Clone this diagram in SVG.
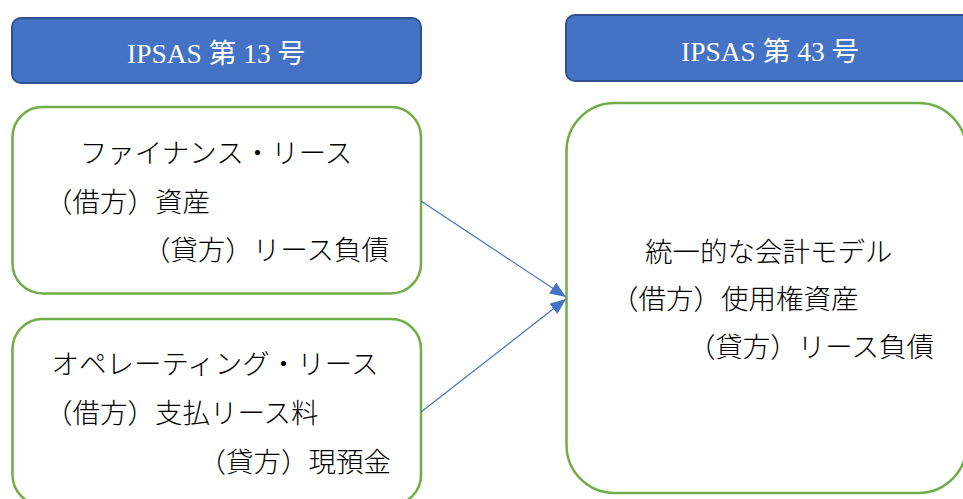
<svg xmlns="http://www.w3.org/2000/svg" width="963" height="499" viewBox="0 0 963 499">
<style>
.hdr{fill:#4472C4;stroke:#2F528F;stroke-width:2}
.hdrt{fill:#fff;font-family:"Liberation Serif","Noto Sans CJK JP",serif;font-size:27.5px;text-anchor:middle}
.box{fill:#fff;stroke:#70AD47;stroke-width:2.5}
.t{fill:#000;font-family:"Noto Sans CJK JP",sans-serif;font-size:27.5px;font-weight:300}
.mid{text-anchor:middle}
.end{text-anchor:end}
.conn{stroke:#4472C4;stroke-width:1.2;fill:none}
</style>
<defs>
<marker id="ah" markerUnits="userSpaceOnUse" markerWidth="17" markerHeight="13" refX="16" refY="6.5" orient="auto">
<path d="M0,0 L16,6.5 L0,13 z" fill="#4472C4"/>
</marker>
</defs>
<rect width="963" height="499" fill="#fff"/>
<g id="header13">
<rect class="hdr" x="12" y="18" width="409" height="65" rx="9"/>
<text class="hdrt" x="216" y="63">IPSAS 第 13 号</text>
</g>
<g id="header43">
<rect class="hdr" x="566" y="15" width="410" height="66" rx="9"/>
<text class="hdrt" x="770" y="61">IPSAS 第 43 号</text>
</g>
<g id="finance">
<rect class="box" x="12.5" y="107" width="408.5" height="186.5" rx="30"/>
<text class="t mid" x="216" y="163">ファイナンス・リース</text>
<text class="t" x="45" y="212">（借方）資産</text>
<text class="t end" x="389" y="260">（貸方）リース負債</text>
</g>
<g id="operating">
<rect class="box" x="12.5" y="319" width="408.5" height="186" rx="30"/>
<text class="t mid" x="215" y="374">オペレーティング・リース</text>
<text class="t" x="45" y="423">（借方）支払リース料</text>
<text class="t end" x="391" y="472">（貸方）現預金</text>
</g>
<g id="unified">
<rect class="box" x="566.5" y="103" width="400" height="390" rx="48"/>
<text class="t" x="645" y="262">統一的な会計モデル</text>
<text class="t" x="611" y="309">（借方）使用権資産</text>
<text class="t end" x="934" y="357">（貸方）リース負債</text>
</g>
<g id="connectors">
<line class="conn" x1="421" y1="201" x2="566" y2="297" marker-end="url(#ah)"/>
<line class="conn" x1="421" y1="412" x2="566" y2="299" marker-end="url(#ah)"/>
</g>
</svg>
